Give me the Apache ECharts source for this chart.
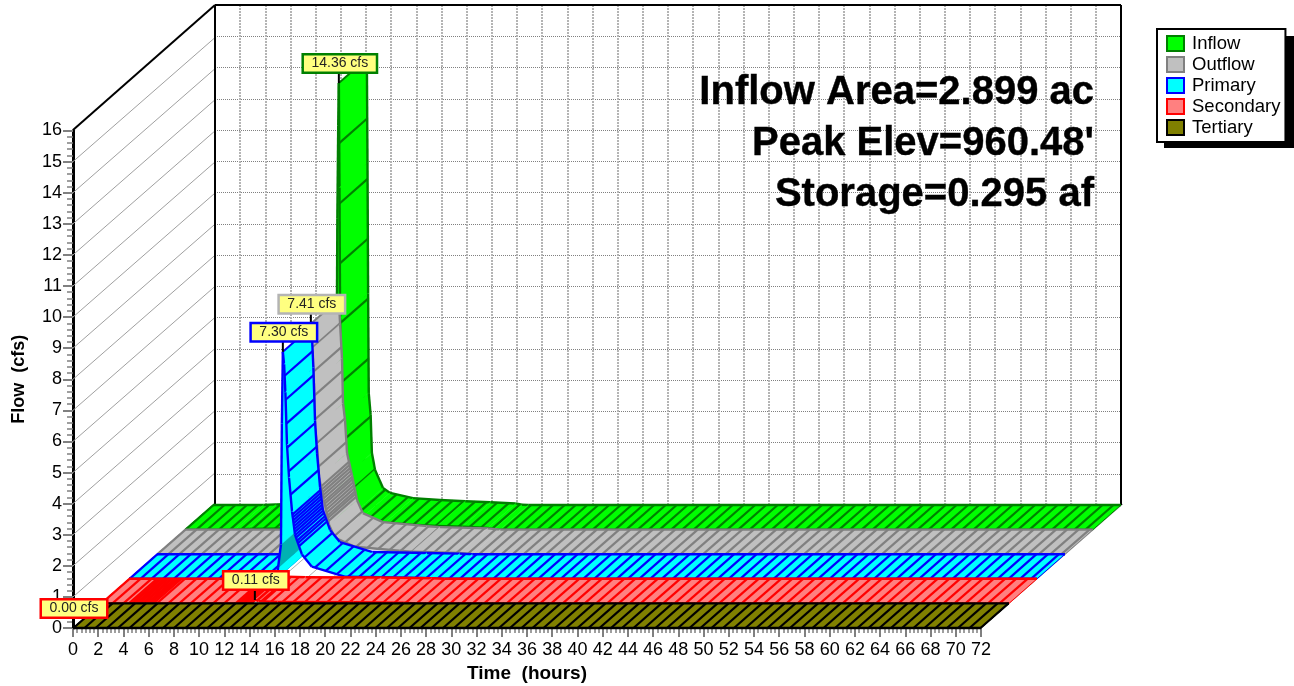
<!DOCTYPE html>
<html>
<head>
<meta charset="utf-8">
<style>html,body{margin:0;padding:0;background:#fff}#c{width:1294px;height:686px}</style>
<script src="https://cdn.jsdelivr.net/npm/echarts@6/dist/echarts.min.js"></script>
</head>
<body>
<div id="c"></div>
<script>
const seriesNames = ['Inflow', 'Outflow', 'Primary', 'Secondary', 'Tertiary'];

const inflowHours = [0, 4, 5, 8, 10, 11, 11.8, 11.95, 12.02, 12.08, 12.15, 12.2, 12.25, 12.3, 12.35, 12.5, 12.6, 12.85, 13.48, 14.04, 15.86, 18, 20, 22, 24, 24.5, 25, 72];
const inflowFlows = [0, 0, 0.02, 0.04, 0.07, 0.12, 0.3, 1.0, 5.0, 10.0, 13.0, 14.36, 11.0, 6.8, 3.6, 2.9, 1.67, 1.13, 0.55, 0.39, 0.22, 0.16, 0.12, 0.09, 0.05, 0.01, 0, 0];

const outflowHours = [0, 11.7, 11.9, 12.0, 12.1, 12.2, 12.3, 12.45, 12.53, 12.69, 12.85, 13.24, 13.64, 14.1, 15.7, 19.2, 20.2, 24, 25, 72];
const outflowFlows = [0, 0, 0.1, 2.0, 6.0, 7.41, 6.6, 5.5, 4.06, 3.52, 2.46, 1.75, 0.95, 0.53, 0.24, 0.11, 0.08, 0.04, 0, 0];

const primaryHours = [0, 11.7, 11.82, 12.05, 12.12, 12.2, 12.3, 12.4, 12.53, 12.69, 12.93, 13.16, 13.72, 14.5, 17.1, 21.4, 24, 25, 72];
const primaryFlows = [0, 0, 0.35, 1.1, 5.0, 7.3, 6.9, 6.0, 4.3, 3.25, 2.16, 1.42, 0.78, 0.39, 0.07, 0.04, 0.02, 0, 0];

const secondaryHours = [0, 11.9, 12.0, 12.2, 12.5, 14, 20, 24, 25, 72];
const secondaryFlows = [0, 0, 0.05, 0.11, 0.07, 0.05, 0.04, 0.02, 0, 0];

const tertiaryHours = [0, 72];
const tertiaryFlows = [0, 0];

const inflowTightHours = [];
const outflowTightHours = [[13.0, 13.6]];
const primaryTightHours = [[12.95, 13.5]];
const secondaryTightHours = [[2.1, 4.3], [10.7, 12.9]];
const tertiaryTightHours = [];
const primaryUndersideHours = [[11.82, 12.05]];

const peakHours = [12.2, 12.2, 12.2, 12.2, 0];
const peakFlows = [14.36, 7.41, 7.30, 0.11, 0.00];

const xTickStep = 2;
const yTickStep = 1;
const xMax = 72;
const yMax = 16;
const noteLines = ['Inflow Area=2.899 ac', "Peak Elev=960.48'", 'Storage=0.295 af'];

/* ---- styling ---- */
const FILLS = ['#00FF00', '#C0C0C0', '#00FFFF', '#FF8080', '#808000'];
const EDGES = ['#008000', '#808080', '#0000FF', '#FF0000', '#000000'];
const LABEL_EDGES = ['#008000', '#B4B4B4', '#0000FF', '#FF0000', '#FF0000'];
const RISE_SPACING = [60, 24, 24, 24, 24];
const UNDERSIDE = '#00B2B2';
const STEP_X = 28, STEP_Y = -24.6;
const FONT = '"Liberation Sans", Arial, sans-serif';

const hoursBySeries = [inflowHours, outflowHours, primaryHours, secondaryHours, tertiaryHours];
const flowsBySeries = [inflowFlows, outflowFlows, primaryFlows, secondaryFlows, tertiaryFlows];
const tightBySeries = [inflowTightHours, outflowTightHours, primaryTightHours, secondaryTightHours, tertiaryTightHours];
const layerOf = i => 4 - i;

function inSpans(spans, t) { return spans.some(s => t >= s[0] && t <= s[1]); }

function ribbon(idx) {
  const hours = hoursBySeries[idx], flows = flowsBySeries[idx], tight = tightBySeries[idx];
  const under = idx === 2 ? primaryUndersideHours : [];
  const ox = STEP_X * layerOf(idx), oy = STEP_Y * layerOf(idx);
  const fill = FILLS[idx], edge = EDGES[idx];
  const line = (a, b, w) => ({ type: 'line', silent: true,
    shape: { x1: a[0], y1: a[1], x2: b[0], y2: b[1] },
    style: { stroke: edge, lineWidth: w } });
  return function (params, api) {
    if (params.dataIndex !== 0) return null;
    const front = hours.map((t, i) => { const p = api.coord([t, flows[i]]); return [p[0] + ox, p[1] + oy]; });
    const back = p => [p[0] + STEP_X, p[1] + STEP_Y];
    const children = [];
    let acc = 1, wasUnder = false;
    for (let i = 0; i < front.length - 1; i++) {
      const a = front[i], b = front[i + 1];
      const dx = b[0] - a[0], dy = b[1] - a[1];
      const isUnder = (-dy) * STEP_X > dx * (-STEP_Y);
      const mid = (hours[i] + hours[i + 1]) / 2;
      const color = inSpans(under, mid) ? UNDERSIDE : fill;
      children.push({ type: 'polygon', silent: true,
        shape: { points: [a, b, back(b), back(a)] },
        style: { fill: color, stroke: color, lineWidth: 0.5 } });
      if (wasUnder && !isUnder) { children.push(line(a, back(a), 2)); acc = 0; }
      const n = Math.max(1, Math.ceil(Math.max(Math.abs(dx), Math.abs(dy)) / 0.5));
      if (!isUnder) {
        for (let k = 1; k <= n; k++) {
          const f = k / n, t = hours[i] + (hours[i + 1] - hours[i]) * f;
          const dense = inSpans(tight, t);
          const mx = dense ? 2.2 : 11.2, my = dense ? 3 : RISE_SPACING[idx];
          acc += Math.hypot((dx / n) / mx, (dy / n) / my);
          if (acc >= 1) {
            const p = [a[0] + dx * f, a[1] + dy * f];
            children.push(line(p, back(p), 2.2));
            acc -= 1;
          }
        }
      }
      children.push(line(a, b, 2.4));
      children.push(line(back(a), back(b), 2.4));
      wasUnder = isUnder;
    }
    children.push(line(front[0], back(front[0]), 1));
    const last = front[front.length - 1];
    children.push(line(last, back(last), 1));
    return { type: 'group', children };
  };
}

const ribbonSeries = seriesNames.map((name, i) => ({
  name, type: 'custom', xAxisIndex: 0, yAxisIndex: 0, z: 5 + i, silent: true,
  coordinateSystem: 'cartesian2d', clip: false,
  data: hoursBySeries[i].map((t, k) => [t, flowsBySeries[i][k]]),
  encode: { x: 0, y: 1 },
  itemStyle: { color: FILLS[i], borderColor: EDGES[i], borderWidth: 2 },
  renderItem: ribbon(i)
}));

const DEPTH_X = 142, DEPTH_Y = -124;
const thin = (a, b, c, w) => ({ type: 'line', silent: true,
  shape: { x1: a[0], y1: a[1], x2: b[0], y2: b[1] }, style: { stroke: c, lineWidth: w } });

const yTicks = []; for (let v = 0; v < yMax; v += yTickStep) yTicks.push(v);
const xTicks = []; for (let v = 0; v <= xMax; v += xTickStep) xTicks.push(v);

const wallSeries = {
  type: 'custom', xAxisIndex: 0, yAxisIndex: 0, z: 1, silent: true, clip: false,
  data: [0], renderItem(params, api) {
    const ch = [];
    yTicks.forEach(v => {
      const p = api.coord([0, v]);
      ch.push(thin(p, [p[0] + DEPTH_X, p[1] + DEPTH_Y], '#A0A0A0', 1));
    });
    xTicks.forEach(v => {
      const p = api.coord([v, 0]);
      ch.push(thin(p, [p[0] + DEPTH_X, p[1] + DEPTH_Y], '#B0B0B0', 1));
    });
    return { type: 'group', children: ch };
  }
};
const frameSeries = {
  type: 'custom', xAxisIndex: 1, yAxisIndex: 1, z: 2, silent: true, clip: false,
  data: [0], renderItem(params, api) {
    const tl = api.coord([0, yMax]), tr = api.coord([xMax, yMax]), bl = api.coord([0, 0]), br = api.coord([xMax, 0]);
    return { type: 'group', children: [
      thin(tl, tr, '#000', 2), thin(tl, bl, '#000', 2), thin(tr, br, '#000', 2),
      thin(tl, [tl[0] - DEPTH_X, tl[1] + 125], '#000', 2)
    ] };
  }
};

const peakSeries = {
  type: 'custom', xAxisIndex: 0, yAxisIndex: 0, z: 20, silent: true, clip: false,
  data: peakHours.map((t, i) => [t, peakFlows[i], i]),
  encode: { x: 0, y: 1 },
  renderItem(params, api) {
    const i = api.value(2), layer = layerOf(i);
    const p = api.coord([api.value(0), api.value(1)]);
    const x = p[0] + STEP_X * layer, y = p[1] + STEP_Y * layer;
    return { type: 'group', children: [
      thin([x, y], [x, y - 14], '#000', 2),
      { type: 'text', silent: true, x: x + 1, y: y - 11.5, style: {
          text: api.value(1).toFixed(2) + ' cfs', font: '14px ' + FONT, fill: '#222',
          align: 'center', verticalAlign: 'bottom',
          backgroundColor: '#FFFF80', borderColor: LABEL_EDGES[i], borderWidth: 2.5,
          padding: [1, 7.5, 1, 7.5] } }
    ] };
  }
};

const notes = noteLines.map((text, i) => ({
  type: 'text', silent: true, z: 30, x: 1094, y: 93 + i * 51,
  style: { text, font: 'bold 40px ' + FONT, fill: '#000', stroke: '#000', lineWidth: 0.4,
           align: 'right', verticalAlign: 'middle' }
}));
const legendShadow = { type: 'rect', silent: true, z: 1, shape: { x: 1164, y: 36, width: 130, height: 112 }, style: { fill: '#000' } };

const frontX = {
  type: 'value', gridIndex: 0, min: 0, max: xMax, interval: xTickStep,
  name: 'Time  (hours)', nameLocation: 'middle', nameGap: 34,
  nameTextStyle: { fontFamily: FONT, fontWeight: 'bold', fontSize: 19, color: '#000' },
  axisLine: { lineStyle: { color: '#808080', width: 1 } },
  axisTick: { length: 9, lineStyle: { color: '#808080', width: 2 } },
  minorTick: { show: true, splitNumber: 6, length: 5, lineStyle: { color: '#808080', width: 1.5 } },
  axisLabel: { margin: 13, fontFamily: FONT, fontSize: 18, color: '#000', showMinLabel: true, showMaxLabel: true },
  splitLine: { show: false }
};
const frontY = {
  type: 'value', gridIndex: 0, min: 0, max: yMax, interval: yTickStep,
  name: 'Flow  (cfs)', nameLocation: 'middle', nameGap: 45, nameRotate: 90,
  nameTextStyle: { fontFamily: FONT, fontWeight: 'bold', fontSize: 18, color: '#000' },
  axisLine: { show: true, lineStyle: { color: '#000', width: 3 } },
  axisTick: { show: true, length: 10, lineStyle: { color: '#808080', width: 2 } },
  minorTick: { show: true, splitNumber: 5, length: 6, lineStyle: { color: '#808080', width: 1.5 } },
  axisLabel: { margin: 11, fontFamily: FONT, fontSize: 18, color: '#000' },
  splitLine: { show: false }
};
const backX = {
  type: 'value', gridIndex: 1, min: 0, max: xMax, interval: xTickStep,
  axisLine: { show: false }, axisTick: { show: false }, axisLabel: { show: false },
  splitLine: { show: true, lineStyle: { color: '#B4B4B4', width: 2, type: [2, 1] } }
};
const backY = {
  type: 'value', gridIndex: 1, min: 0, max: yMax, interval: yTickStep,
  axisLine: { show: false }, axisTick: { show: false }, axisLabel: { show: false },
  splitLine: { show: true, lineStyle: { color: '#808080', width: 1, type: [1, 1] } }
};

const chart = echarts.init(document.getElementById('c'), null, { renderer: 'canvas' });
chart.setOption({
  animation: false,
  backgroundColor: '#fff',
  textStyle: { fontFamily: FONT },
  grid: [
    { left: 73, top: 130.5, width: 908, height: 497.5, containLabel: false, outerBoundsMode: 'none' },
    { left: 215, top: 5, width: 906, height: 500, containLabel: false, outerBoundsMode: 'none' }
  ],
  xAxis: [frontX, backX],
  yAxis: [frontY, backY],
  legend: {
    left: 1157, top: 29, orient: 'vertical', icon: 'rect', z: 10,
    padding: [5, 5, 5, 9], itemWidth: 17, itemHeight: 15, itemGap: 2,
    backgroundColor: '#fff', borderColor: '#000', borderWidth: 2,
    selectedMode: false,
    textStyle: { fontFamily: FONT, fontSize: 18.5, color: '#000', padding: [0, 0, 0, 3] },
    data: seriesNames.map((name, i) => ({ name, itemStyle: { color: FILLS[i], borderColor: EDGES[i], borderWidth: 2 } }))
  },
  graphic: [legendShadow, ...notes],
  series: [wallSeries, frameSeries, ...ribbonSeries, peakSeries]
});
</script>
</body>
</html>
